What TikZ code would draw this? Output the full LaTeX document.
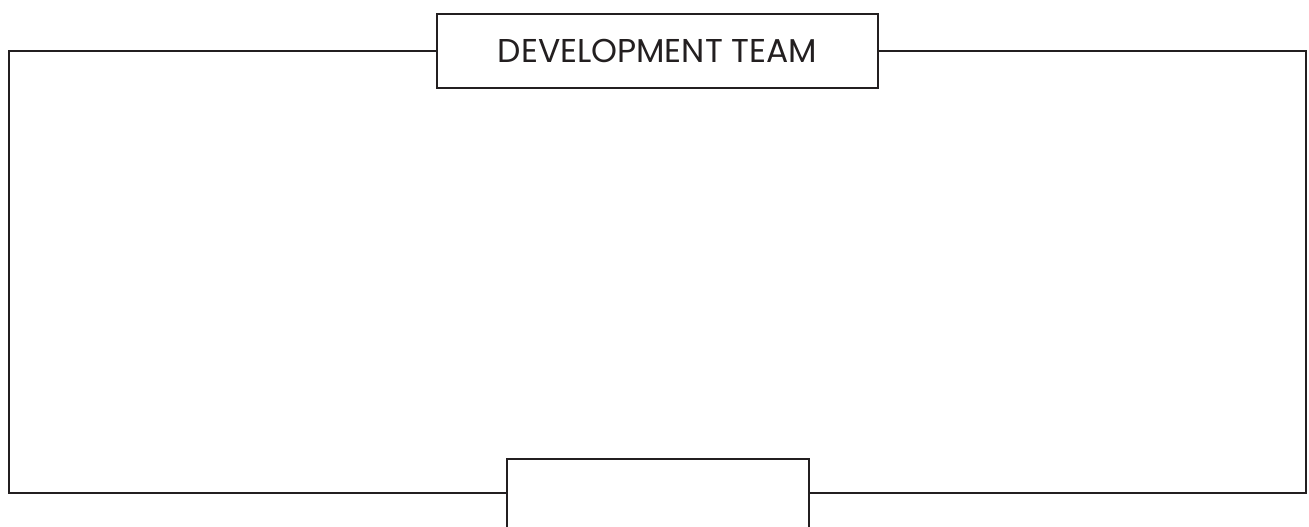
\documentclass[tikz,border=0pt]{standalone}
\usepackage{fontspec}
\setmainfont{Poppins}
\usepackage{tikz}

\definecolor{inkline}{HTML}{231F20}

\begin{document}
\begin{tikzpicture}[x=1pt,y=-1pt,
    panel/.style={draw=inkline,line width=2.5pt,fill=white,inner sep=0pt},
    frameline/.style={draw=inkline,line width=2.5pt}]
        \useasboundingbox (0,0) rectangle (1309,527);
        % Draw frame corners
        \coordinate (tl) at (9,51);
        \coordinate (br) at (1306,493);
        % Draw boxes
        \node[panel,minimum width=441pt,minimum height=74pt,font=\fontsize{33}{38}\selectfont,text=inkline] (team) at (657.5,51) {DEVELOPMENT TEAM};
        \node[panel,minimum width=302pt,minimum height=120pt] (base) at (658,519) {};
        % Draw frame
        \draw[frameline] (team.west) -- (tl) |- (base.west |- br);
        \draw[frameline] (base.east |- br) -| (tl -| br) -- (team.east);
    \end{tikzpicture}
\end{document}
